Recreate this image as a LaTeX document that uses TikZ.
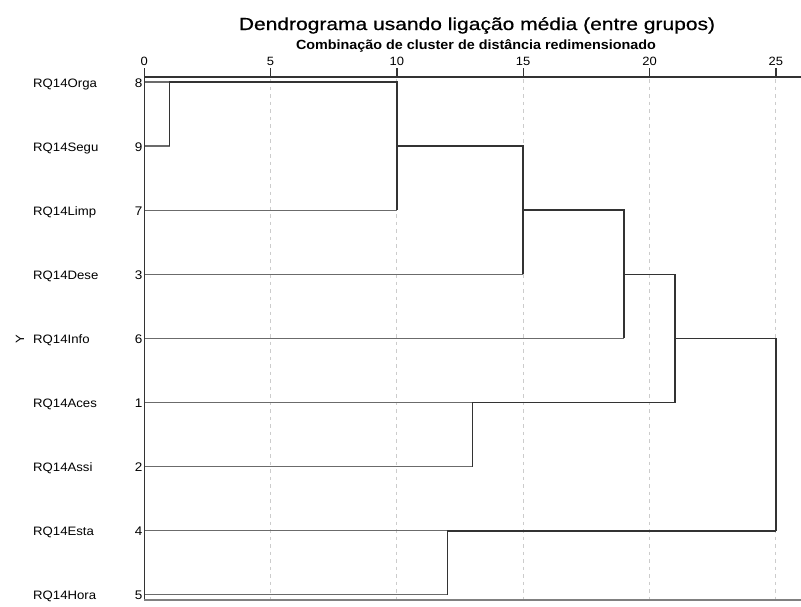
\documentclass[tikz,border=0pt]{standalone}
\usepackage{fontspec}
\setmainfont[FakeStretch=1.08]{Liberation Sans}
\newfontfamily\titlefont[FakeStretch=1.2, FakeBold=0.6]{Liberation Sans}
\usepackage{tikz}
\usetikzlibrary{positioning}

\tikzset{
    leaf/.style={draw=black!58, line width=1.3pt},
    link/.style={draw=black!80, line width=1.6pt},
    gridline/.style={draw=black!20, line width=1pt, dash pattern=on 3.5pt off 4pt},
    axisline/.style={draw=black!80, line width=1.4pt},
    ticklabel/.style={anchor=base, inner sep=0pt, font=\fontsize{12}{14}\selectfont},
    itemlabel/.style={anchor=base west, inner sep=0pt, font=\fontsize{12.2}{14}\selectfont},
    itemnum/.style={anchor=base east, inner sep=0pt, font=\fontsize{12.5}{14}\selectfont}
}

\begin{document}
\begin{tikzpicture}[x=1pt, y=-1pt]
        \useasboundingbox (0, 0) rectangle (801, 606);
        % Titles
        \node [anchor=base, font=\titlefont\fontsize{17.5}{20}\selectfont] (title) at (477, 30) {Dendrograma usando ligação média (entre grupos)};
        \node [anchor=base, font=\bfseries\fontsize{13.3}{15}\selectfont] (subtitle) at (476, 49) {Combinação de cluster de distância redimensionado};
        \node [rotate=90, font=\fontsize{12}{14}\selectfont] (yaxis) at (20, 339) {Y};
        % Items
        \foreach \num/\name [count=\row from 0] in {8/Orga, 9/Segu, 7/Limp, 3/Dese, 6/Info, 1/Aces, 2/Assi, 4/Esta, 5/Hora} {
            \node [itemlabel] (lbl\num) at (33, 87 + 64.1*\row) {RQ14\name};
            \node [itemnum] (num\num) at (142.5, 87 + 64.1*\row) {\num};
        }
        \begin{scope}[shift={(144.3, 0)}, x=25.26pt]
            % Grid and ticks
            \foreach \d in {5, 10, ..., 25}
                \draw [gridline] (\d, 79) -- (\d, 599);
            \foreach \d in {0, 5, ..., 25} {
                \draw [axisline] (\d, 68) -- (\d, 77);
                \node [ticklabel] (tick\d) at (\d, 65.5) {\d};
            }
            % Leaf ends and merge heights
            \foreach \num [count=\row from 0] in {8, 9, 7, 3, 6, 1, 2, 4, 5}
                \coordinate (leaf\num) at (0, 82 + 64.1*\row);
            \coordinate (hA) at (1, 0);
            \coordinate (hB) at (10, 0);
            \coordinate (hC) at (15, 0);
            \coordinate (hD) at (19, 0);
            \coordinate (hE) at (21, 0);
            \coordinate (hF) at (13, 0);
            \coordinate (hG) at (25, 0);
            \coordinate (hH) at (12, 0);
            % Leaves
            \draw [leaf] (leaf8) -- (leaf8 -| hA);
            \draw [leaf] (leaf9) -- (leaf9 -| hA);
            \draw [leaf] (leaf7) -- (leaf7 -| hB);
            \draw [leaf] (leaf3) -- (leaf3 -| hC);
            \draw [leaf] (leaf6) -- (leaf6 -| hD);
            \draw [leaf] (leaf1) -- (leaf1 -| hF);
            \draw [leaf] (leaf2) -- (leaf2 -| hF);
            \draw [leaf] (leaf4) -- (leaf4 -| hH);
            \draw [leaf] (leaf5) -- (leaf5 -| hH);
            % Merges
            \draw [link] (leaf9 -| hA) -- (leaf8 -| hA) -| (leaf7 -| hB);
            \draw [link] (leaf9 -| hB) -| (leaf3 -| hC);
            \draw [link] (leaf7 -| hC) -| (leaf6 -| hD);
            \draw [link] (leaf2 -| hF) -- (leaf1 -| hF) -| (leaf3 -| hE) -| (leaf3 -| hD);
            \draw [link] (leaf6 -| hE) -| (leaf4 -| hG);
            \draw [link] (leaf5 -| hH) -- (leaf4 -| hH) -- (leaf4 -| hG);
            % Frame
            \draw [axisline] (26.1, 77) -- (0, 77) -- (0, 600);
            \draw [draw=black!50, line width=1.2pt] (0, 600) -- (26.1, 600);
        \end{scope}
    \end{tikzpicture}
\end{document}
